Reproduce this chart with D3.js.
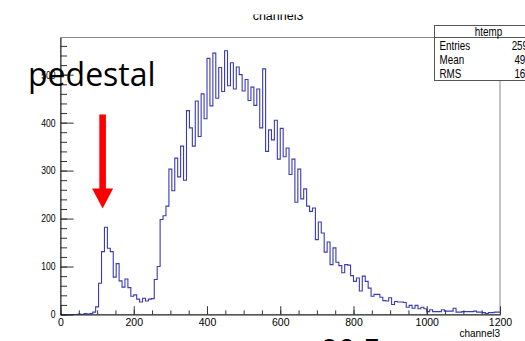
<!DOCTYPE html>
<html>
<head>
<meta charset="utf-8">
<script src="https://cdnjs.cloudflare.com/ajax/libs/d3/7.8.5/d3.min.js"></script>
<style>
  html, body { margin: 0; padding: 0; background: #fff; }
  svg { display: block; }
  .axis text { font-family: "Liberation Sans", Arial, sans-serif; font-size: 10.5px; fill: #000; }
  .stats text { font-family: "Liberation Sans", Arial, sans-serif; font-size: 12px; fill: #000; }
</style>
</head>
<body>
<svg id="chart" width="525" height="341"></svg>
<script>
// htemp : channel3, 150 bins of 8 channels between 0 and 1200
const channelMin = 0;
const channelMax = 1200;
const binCounts = [
  0, 0, 0, 0, 0, 0, 1, 0, 2, 1, 2, 5,
  16, 65, 131, 182,
  138, 131, 78, 106, 70, 57, 74, 56, 38, 41, 32, 26, 34, 28, 32, 33, 73, 100,
  198, 206, 226, 303,
  258, 326, 287, 351, 280, 425, 389, 351, 445, 371, 460, 408, 534, 435, 545, 451, 515, 465,
  550,
  477, 525, 470, 516, 500, 466, 490, 446, 474, 436, 470, 389, 512,
  340, 385, 364, 405, 324, 388, 329, 347, 292, 324, 234, 303, 241, 262, 226, 215, 222, 156,
  193, 170, 130, 151, 104, 139, 109, 102, 87, 104, 103, 81, 69, 76, 49, 80, 69, 55, 38, 42,
  42, 36, 29, 28, 35, 21,
  27, 26, 26, 25, 15, 19, 13, 19, 12, 15, 12, 6, 10, 6, 6, 6, 10, 7, 7, 7,
  13, 5, 5, 6, 6, 6, 6, 7, 5, 5, 4, 2, 4, 4, 5, 5
];

const xTickValues = [0, 200, 400, 600, 800, 1000, 1200];
const yTickValues = [0, 100, 200, 300, 400, 500];
const histTitle = 'channel3';
const xAxisTitle = 'channel3';

const statsTitle = 'htemp';
const statsLabels = ['Entries', 'Mean', 'RMS'];
const statsValues = ['25938', '493.5', '163.2'];

// annotation: arrow at channel 115 from count 417 down to 221
const noteText = 'pedestal';
const arrowChannel = 115;
const arrowFrom = 417;
const arrowTo = 221;
const footText = '90 F';

const margin = {top: 37.5, right: 25, bottom: 26.5, left: 60.5};
const width = 525;
const height = 341;
const innerWidth = width - margin.left - margin.right;
const innerHeight = height - margin.top - margin.bottom;

// ROOT draws the y labels and the stats box in a condensed face
const narrow = 0.82;

const svg = d3.select('#chart');

const binWidth = (channelMax - channelMin) / binCounts.length;
const yMax = d3.max(binCounts) * 1.05;   // ROOT leaves 5% headroom

const xScale = d3.scaleLinear().domain([channelMin, channelMax]).range([0, innerWidth]);
const yScale = d3.scaleLinear().domain([0, yMax]).range([innerHeight, 0]);

const g = svg.append('g')
  .attr('transform', `translate(${margin.left},${margin.top})`);

// frame
g.append('rect')
  .attr('x', 0).attr('y', 0)
  .attr('width', innerWidth).attr('height', innerHeight)
  .attr('fill', 'none')
  .attr('stroke', '#8a8a8a')
  .attr('stroke-width', 1);

// histogram outline
const steps = binCounts.map((c, i) => [channelMin + i * binWidth, c]);
steps.push([channelMax, binCounts[binCounts.length - 1]]);

const histLine = d3.line()
  .x(d => xScale(d[0]))
  .y(d => yScale(d[1]))
  .curve(d3.curveStepAfter);

g.append('path')
  .datum(steps)
  .attr('d', histLine)
  .attr('fill', 'none')
  .attr('stroke', '#3a3ab8')
  .attr('stroke-width', 1.1);

// y axis, ticks drawn inwards
const yMajor = innerWidth * 0.03;
g.append('g')
  .attr('class', 'axis')
  .call(d3.axisLeft(yScale).tickValues(d3.range(0, yMax, 20)).tickSize(-yMajor / 2).tickFormat(''))
  .call(a => a.select('.domain').remove())
  .selectAll('line').attr('stroke', '#333');

g.append('g')
  .attr('class', 'axis')
  .call(d3.axisLeft(yScale).tickValues(yTickValues).tickFormat(d3.format('d'))
    .tickSizeInner(-yMajor).tickSizeOuter(0).tickPadding(5))
  .call(a => a.select('.domain').attr('stroke', '#222'))
  .call(a => a.selectAll('line').attr('stroke', '#333'))
  .call(a => a.selectAll('text')
    .attr('x', 0)
    .attr('transform', `translate(-5,0) scale(${narrow},1)`));

// x axis
const xMajor = innerHeight * 0.03;
g.append('g')
  .attr('class', 'axis')
  .attr('transform', `translate(0,${innerHeight})`)
  .call(d3.axisBottom(xScale).tickValues(d3.range(channelMin, channelMax + 1, 50)).tickSize(-xMajor / 2).tickFormat(''))
  .call(a => a.select('.domain').remove())
  .selectAll('line').attr('stroke', '#333');

g.append('g')
  .attr('class', 'axis')
  .attr('transform', `translate(0,${innerHeight})`)
  .call(d3.axisBottom(xScale).tickValues(xTickValues).tickFormat(d3.format('d'))
    .tickSizeInner(-xMajor).tickSizeOuter(0).tickPadding(4))
  .call(a => a.select('.domain').attr('stroke', '#222'))
  .call(a => a.selectAll('line').attr('stroke', '#333'));

g.append('text')
  .attr('x', innerWidth)
  .attr('y', innerHeight + 22.5)
  .attr('text-anchor', 'end')
  .attr('font-family', '"Liberation Sans", Arial, sans-serif')
  .attr('font-size', 10)
  .text(xAxisTitle);

// title, its upper part is cut off in the picture
svg.append('clipPath').attr('id', 'titleClip')
  .append('rect').attr('x', 0).attr('y', 14.5).attr('width', width).attr('height', 20);

svg.append('text')
  .attr('clip-path', 'url(#titleClip)')
  .attr('x', 278)
  .attr('y', 19.5)
  .attr('text-anchor', 'middle')
  .attr('font-family', '"Liberation Sans", Arial, sans-serif')
  .attr('font-size', 12.5)
  .text(histTitle);

// stats box
const stats = svg.append('g').attr('class', 'stats');
stats.append('rect')
  .attr('x', 434.5).attr('y', 25.5)
  .attr('width', 110).attr('height', 55)
  .attr('fill', '#fff')
  .attr('stroke', '#555');
stats.append('line')
  .attr('x1', 434.5).attr('x2', 545)
  .attr('y1', 37.5).attr('y2', 37.5)
  .attr('stroke', '#555');
stats.append('text')
  .attr('transform', `translate(488.5,35.5) scale(${narrow},1)`)
  .attr('text-anchor', 'middle')
  .text(statsTitle);
stats.selectAll('text.label')
  .data(statsLabels)
  .join('text')
  .attr('class', 'label')
  .attr('transform', (d, i) => `translate(439.5,${50 + i * 14}) scale(${narrow},1)`)
  .text(d => d);
stats.selectAll('text.value')
  .data(statsValues)
  .join('text')
  .attr('class', 'value')
  .attr('transform', (d, i) => `translate(539,${50 + i * 14}) scale(${narrow},1)`)
  .attr('text-anchor', 'end')
  .text(d => d);

// red arrow pointing at the pedestal peak
const ax = xScale(arrowChannel);
const headTop = yScale(arrowTo) - 20;
const arrow = g.append('g').attr('fill', '#ff0000');
arrow.append('rect')
  .attr('x', ax - 3.3).attr('y', yScale(arrowFrom))
  .attr('width', 6.6).attr('height', headTop - yScale(arrowFrom) + 1);
arrow.append('path')
  .attr('d', `M${ax - 10.5},${headTop} L${ax + 10.5},${headTop} L${ax},${yScale(arrowTo)} Z`);

svg.append('text')
  .attr('x', 28)
  .attr('y', 86)
  .attr('font-family', '"Open Sans", "Noto Sans", sans-serif')
  .attr('font-size', 32)
  .attr('fill', '#000')
  .text(noteText);

svg.append('text')
  .attr('x', 321)
  .attr('y', 360)
  .attr('font-family', '"Open Sans", "Noto Sans", sans-serif')
  .attr('font-size', 30)
  .attr('fill', '#000')
  .text(footText);
</script>
</body>
</html>
